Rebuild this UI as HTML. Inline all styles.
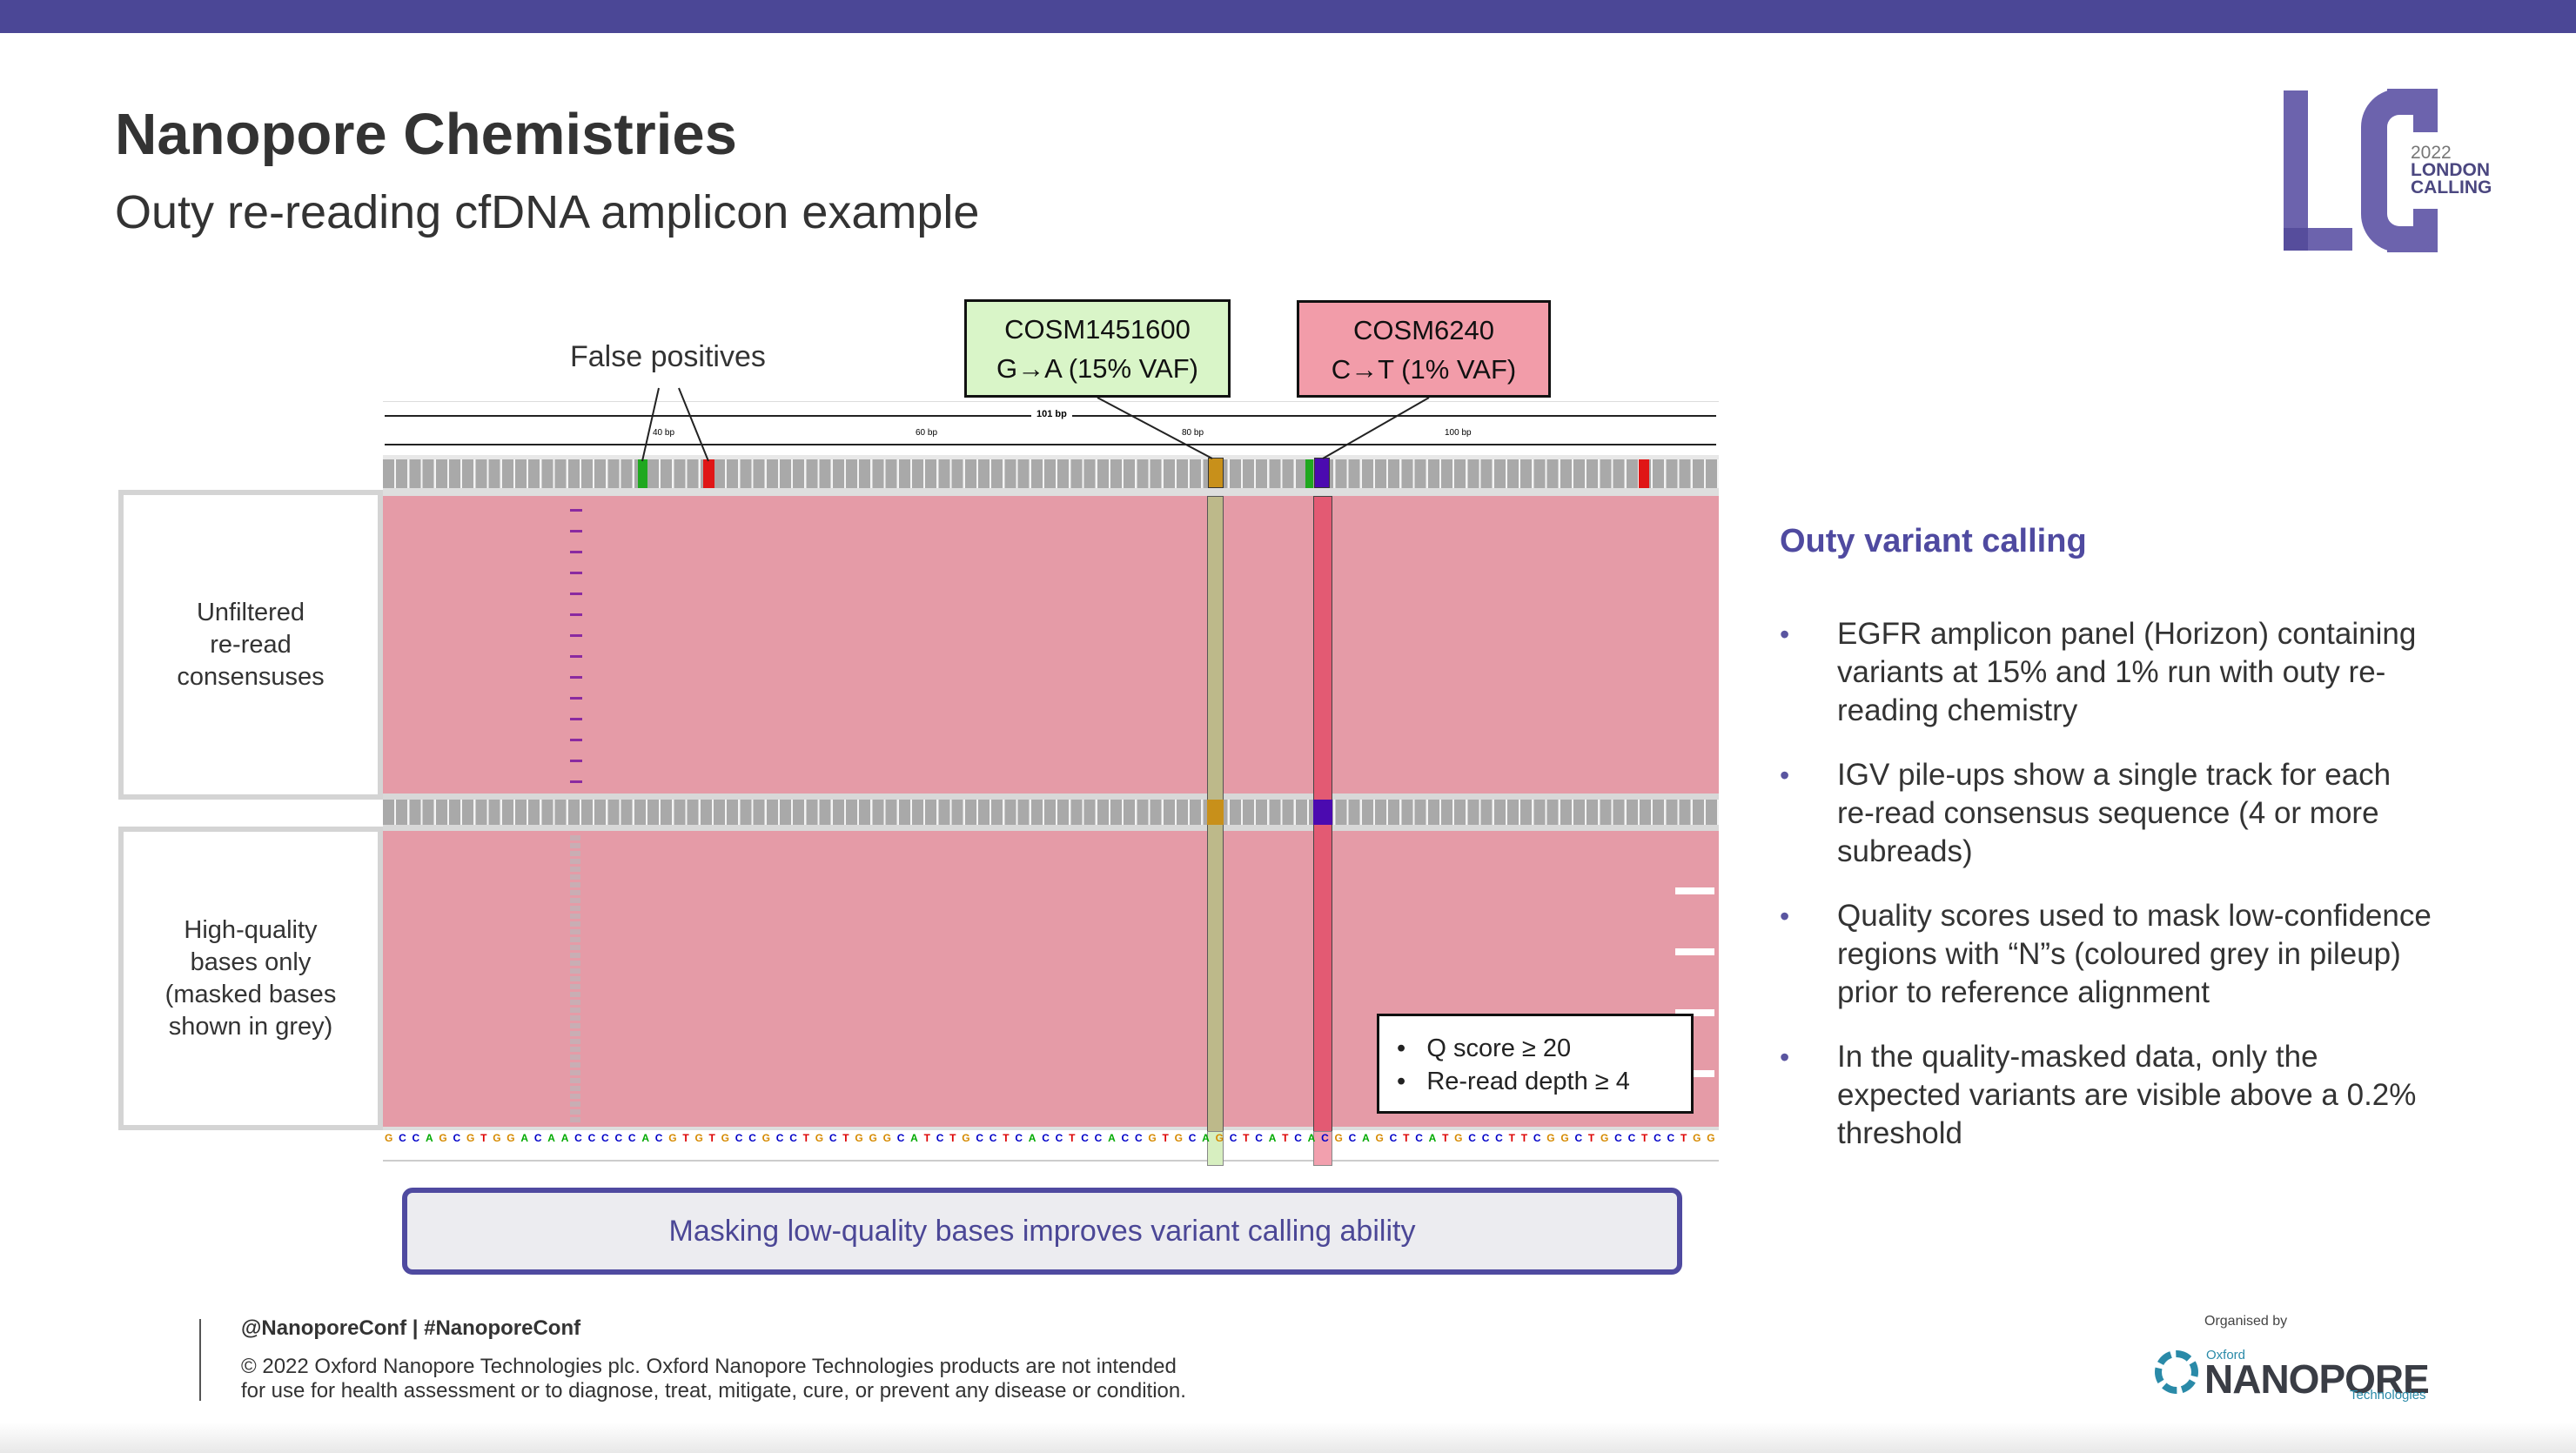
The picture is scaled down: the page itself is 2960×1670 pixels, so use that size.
<!DOCTYPE html>
<html><head><meta charset="utf-8"><style>
*{margin:0;padding:0;box-sizing:border-box}
body{width:2960px;height:1670px;position:relative;background:#fff;font-family:"Liberation Sans",sans-serif;overflow:hidden}
.a{position:absolute}
.box{border:6px solid #d4d4d4;background:#fff;display:flex;align-items:center;justify-content:center;text-align:center;font-size:29px;color:#333;line-height:37px}
.gtrack{background:repeating-linear-gradient(90deg,#a9a9a9 0 13px,#f4f4f4 13px 15.2px)}
.pink{background:#e59ba7}
ul.b{list-style:none}
ul.b li{position:relative;padding-left:66px;font-size:35px;line-height:44px;color:#333;margin-bottom:30px}
ul.b li:before{content:"•";position:absolute;left:0;color:#5a55a0;font-size:32px}
.seq{display:flex;justify-content:space-between;font-family:"Liberation Sans Narrow","Liberation Sans",sans-serif;font-size:12px;font-weight:bold}
</style></head><body>
<div class="a" style="left:0;top:0;width:2960px;height:38px;background:#4b4796"></div>
<div class="a" style="left:132px;top:116px;font-size:67px;font-weight:bold;color:#333">Nanopore Chemistries</div>
<div class="a" style="left:132px;top:213px;font-size:54px;color:#333">Outy re-reading cfDNA amplicon example</div>

<!-- LC logo -->
<div class="a" style="left:2624px;top:104px;width:28px;height:184px;background:#6c63ad"></div>
<div class="a" style="left:2624px;top:262px;width:79px;height:26px;background:#6c63ad"></div>
<div class="a" style="left:2624px;top:262px;width:28px;height:26px;background:#564d9c"></div>
<div class="a" style="left:2713px;top:102px;width:88px;height:188px;border:30px solid #6c63ad;border-right:none;border-radius:44px 0 0 44px"></div>
<div class="a" style="left:2743px;top:102px;width:58px;height:50px;border-top:30px solid #6c63ad;border-right:28px solid #6c63ad;border-radius:0 30px 0 0"></div>
<div class="a" style="left:2743px;top:240px;width:58px;height:50px;border-bottom:30px solid #6c63ad;border-right:28px solid #6c63ad;border-radius:0 0 30px 0"></div>
<div class="a" style="left:2770px;top:166px;font-size:21px;color:#777;line-height:20px">2022<br><b style="color:#4b4780">LONDON<br>CALLING</b></div>

<!-- callouts -->
<div class="a" style="left:655px;top:391px;font-size:34px;color:#333">False positives</div>
<div class="a" style="left:1108px;top:344px;width:306px;height:113px;background:#d9f5c8;border:3px solid #111;text-align:center;font-size:31px;line-height:45px;padding-top:9px;color:#111">COSM1451600<br>G→A (15% VAF)</div>
<div class="a" style="left:1490px;top:345px;width:292px;height:112px;background:#f29ca9;border:3px solid #111;text-align:center;font-size:31px;line-height:45px;padding-top:9px;color:#111">COSM6240<br>C→T (1% VAF)</div>

<!-- IGV -->
<div class="a" style="left:440px;top:461px;width:1535px;height:65px;background:#fff;border-top:1px solid #ddd"></div>
<div class="a" style="left:442px;top:477px;width:1530px;height:2px;background:#222"></div>
<div class="a" style="left:1185px;top:470px;background:#fff;padding:0 6px;font-size:11px;font-weight:bold">101 bp</div>
<div class="a" style="left:442px;top:510px;width:1530px;height:2px;background:#222"></div>
<div class="a" style="left:750px;top:492px;font-size:10px">40 bp</div>
<div class="a" style="left:1052px;top:492px;font-size:10px">60 bp</div>
<div class="a" style="left:1358px;top:492px;font-size:10px">80 bp</div>
<div class="a" style="left:1660px;top:492px;font-size:10px">100 bp</div>
<div class="a" style="left:440px;top:523px;width:1535px;height:5px;background:#e8e8e8"></div>
<div class="a gtrack" style="left:440px;top:528px;width:1535px;height:33px"></div>
<div class="a" style="left:733px;top:528px;width:11px;height:33px;background:#1fa81f"></div>
<div class="a" style="left:808px;top:528px;width:13px;height:33px;background:#e01616"></div>
<div class="a" style="left:1388px;top:526px;width:18px;height:35px;background:#c8901a;border:1px solid #333"></div>
<div class="a" style="left:1500px;top:528px;width:9px;height:33px;background:#1fa81f"></div>
<div class="a" style="left:1510px;top:526px;width:18px;height:35px;background:#4b0ab0;border:1px solid #333"></div>
<div class="a" style="left:1883px;top:528px;width:12px;height:33px;background:#e01616"></div>
<div class="a" style="left:440px;top:561px;width:1535px;height:9px;background:#dedede"></div>

<div class="a pink" style="left:440px;top:570px;width:1535px;height:342px"></div>
<div class="a" style="left:440px;top:912px;width:1535px;height:7px;background:#d8d8d8"></div>
<div class="a gtrack" style="left:440px;top:919px;width:1535px;height:29px"></div>
<div class="a" style="left:1388px;top:919px;width:18px;height:29px;background:#c8901a"></div>
<div class="a" style="left:1510px;top:919px;width:18px;height:29px;background:#4b0ab0"></div>
<div class="a" style="left:440px;top:948px;width:1535px;height:7px;background:#d8d8d8"></div>
<div class="a pink" style="left:440px;top:955px;width:1535px;height:340px"></div>
<div class="a" style="left:440px;top:1295px;width:1535px;height:40px;background:#fff;border-top:4px solid #ddd;border-bottom:2px solid #ccc"></div>

<!-- purple marks -->
<div class="a" style="left:655px;top:575px;width:14px;height:335px;background:repeating-linear-gradient(180deg,transparent 0 10px,#8a2aa0 10px 13px,transparent 13px 24px)"></div>
<div class="a" style="left:655px;top:960px;width:12px;height:330px;background:repeating-linear-gradient(180deg,#c8aeb4 0 6px,transparent 6px 9px)"></div>
<div class="a" style="left:1925px;top:990px;width:45px;height:270px;background:repeating-linear-gradient(180deg,transparent 0 30px,#fff 30px 38px,transparent 38px 70px)"></div>

<!-- columns -->
<div class="a" style="left:1387px;top:570px;width:19px;height:770px;background:#bdb98a;border:1px solid #555"></div>
<div class="a" style="left:1387px;top:919px;width:19px;height:29px;background:#c8901a"></div>
<div class="a" style="left:1509px;top:570px;width:22px;height:770px;background:#e35a73;border:1px solid #444"></div>
<div class="a" style="left:1509px;top:919px;width:22px;height:29px;background:#4b0ab0"></div>
<div class="a" style="left:1387px;top:1300px;width:19px;height:40px;background:#d7efc0;border:1px solid #888"></div>
<div class="a" style="left:1509px;top:1300px;width:22px;height:40px;background:#f2a0ae;border:1px solid #888"></div>

<div class="a seq" style="left:442px;top:1301px;width:1530px"><span style="color:#d68a00">G</span><span style="color:#0000c8">C</span><span style="color:#0000c8">C</span><span style="color:#0a0">A</span><span style="color:#d68a00">G</span><span style="color:#0000c8">C</span><span style="color:#d68a00">G</span><span style="color:#d00">T</span><span style="color:#d68a00">G</span><span style="color:#d68a00">G</span><span style="color:#0a0">A</span><span style="color:#0000c8">C</span><span style="color:#0a0">A</span><span style="color:#0a0">A</span><span style="color:#0000c8">C</span><span style="color:#0000c8">C</span><span style="color:#0000c8">C</span><span style="color:#0000c8">C</span><span style="color:#0000c8">C</span><span style="color:#0a0">A</span><span style="color:#0000c8">C</span><span style="color:#d68a00">G</span><span style="color:#d00">T</span><span style="color:#d68a00">G</span><span style="color:#d00">T</span><span style="color:#d68a00">G</span><span style="color:#0000c8">C</span><span style="color:#0000c8">C</span><span style="color:#d68a00">G</span><span style="color:#0000c8">C</span><span style="color:#0000c8">C</span><span style="color:#d00">T</span><span style="color:#d68a00">G</span><span style="color:#0000c8">C</span><span style="color:#d00">T</span><span style="color:#d68a00">G</span><span style="color:#d68a00">G</span><span style="color:#d68a00">G</span><span style="color:#0000c8">C</span><span style="color:#0a0">A</span><span style="color:#d00">T</span><span style="color:#0000c8">C</span><span style="color:#d00">T</span><span style="color:#d68a00">G</span><span style="color:#0000c8">C</span><span style="color:#0000c8">C</span><span style="color:#d00">T</span><span style="color:#0000c8">C</span><span style="color:#0a0">A</span><span style="color:#0000c8">C</span><span style="color:#0000c8">C</span><span style="color:#d00">T</span><span style="color:#0000c8">C</span><span style="color:#0000c8">C</span><span style="color:#0a0">A</span><span style="color:#0000c8">C</span><span style="color:#0000c8">C</span><span style="color:#d68a00">G</span><span style="color:#d00">T</span><span style="color:#d68a00">G</span><span style="color:#0000c8">C</span><span style="color:#0a0">A</span><span style="color:#d68a00">G</span><span style="color:#0000c8">C</span><span style="color:#d00">T</span><span style="color:#0000c8">C</span><span style="color:#0a0">A</span><span style="color:#d00">T</span><span style="color:#0000c8">C</span><span style="color:#0a0">A</span><span style="color:#0000c8">C</span><span style="color:#d68a00">G</span><span style="color:#0000c8">C</span><span style="color:#0a0">A</span><span style="color:#d68a00">G</span><span style="color:#0000c8">C</span><span style="color:#d00">T</span><span style="color:#0000c8">C</span><span style="color:#0a0">A</span><span style="color:#d00">T</span><span style="color:#d68a00">G</span><span style="color:#0000c8">C</span><span style="color:#0000c8">C</span><span style="color:#0000c8">C</span><span style="color:#d00">T</span><span style="color:#d00">T</span><span style="color:#0000c8">C</span><span style="color:#d68a00">G</span><span style="color:#d68a00">G</span><span style="color:#0000c8">C</span><span style="color:#d00">T</span><span style="color:#d68a00">G</span><span style="color:#0000c8">C</span><span style="color:#0000c8">C</span><span style="color:#d00">T</span><span style="color:#0000c8">C</span><span style="color:#0000c8">C</span><span style="color:#d00">T</span><span style="color:#d68a00">G</span><span style="color:#d68a00">G</span></div>

<svg class="a" style="left:0;top:0" width="2960" height="1670"><g stroke="#222" stroke-width="2" fill="none">
<line x1="757" y1="446" x2="738" y2="530"/><line x1="780" y1="446" x2="814" y2="530"/>
<line x1="1261" y1="457" x2="1393" y2="527"/><line x1="1642" y1="457" x2="1520" y2="527"/></g></svg>

<div class="a" style="left:1582px;top:1165px;width:364px;height:115px;background:#fff;border:3px solid #111;font-size:29px;line-height:38px;color:#222;padding:18px 0 0 20px">•&nbsp;&nbsp;&nbsp;Q score ≥ 20<br>•&nbsp;&nbsp;&nbsp;Re-read depth ≥ 4</div>

<div class="a box" style="left:136px;top:563px;width:304px;height:356px">Unfiltered<br>re-read<br>consensuses</div>
<div class="a box" style="left:136px;top:950px;width:304px;height:349px">High-quality<br>bases only<br>(masked bases<br>shown in grey)</div>

<div class="a" style="left:462px;top:1365px;width:1471px;height:100px;border:6px solid #4f4aa0;border-radius:12px;background:#ececf0;display:flex;align-items:center;justify-content:center;font-size:34px;color:#4b4796">Masking low-quality bases improves variant calling ability</div>

<div class="a" style="left:2045px;top:601px;font-size:38px;font-weight:bold;color:#4f4aa0">Outy variant calling</div>
<ul class="a b" style="left:2045px;top:707px;width:750px">
<li>EGFR amplicon panel (Horizon) containing variants at 15% and 1% run with outy re-reading chemistry</li>
<li>IGV pile-ups show a single track for each re-read consensus sequence (4 or more subreads)</li>
<li>Quality scores used to mask low-confidence regions with “N”s (coloured grey in pileup) prior to reference alignment</li>
<li>In the quality-masked data, only the expected variants are visible above a 0.2% threshold</li>
</ul>

<div class="a" style="left:229px;top:1516px;width:2px;height:94px;background:#555"></div>
<div class="a" style="left:277px;top:1513px;font-size:24px;font-weight:bold;color:#333">@NanoporeConf | #NanoporeConf</div>
<div class="a" style="left:277px;top:1557px;font-size:24px;line-height:28px;color:#333">© 2022 Oxford Nanopore Technologies plc. Oxford Nanopore Technologies products are not intended<br>for use for health assessment or to diagnose, treat, mitigate, cure, or prevent any disease or condition.</div>

<div class="a" style="left:2533px;top:1510px;font-size:16px;color:#444">Organised by</div>
<div class="a" style="left:2476px;top:1552px;width:50px;height:50px;border-radius:50%;border:8px dashed #2a8aa8"></div>
<div class="a" style="left:2535px;top:1549px;font-size:15px;color:#2a8aa8">Oxford</div>
<div class="a" style="left:2533px;top:1558px;font-size:46px;font-weight:bold;color:#3a3d45;letter-spacing:-1px">NANOPORE</div>
<div class="a" style="left:2700px;top:1595px;font-size:15px;color:#2a8aa8">Technologies</div>
<div class="a" style="left:0;top:1635px;width:2960px;height:35px;background:linear-gradient(#fff,#e8e8e8)"></div>
</body></html>
